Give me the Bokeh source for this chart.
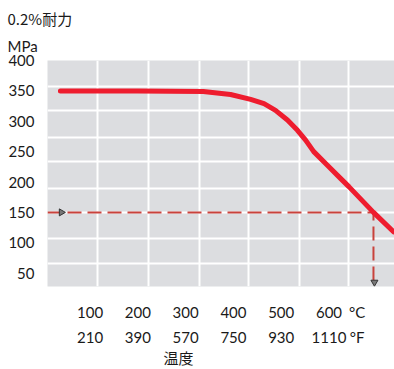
import math
from bokeh.plotting import figure
from bokeh.models import FixedTicker, Range1d, LinearAxis, Title
from bokeh.embed import file_html
from bokeh.resources import INLINE

# ---- data ----
temp_c = [38, 200, 337, 394, 436, 464, 488, 513, 534, 551, 568, 596, 624, 642, 693, 735]
strength = [350, 350, 349, 344, 336, 329, 318, 302, 285, 269, 250, 228, 206, 192, 150, 118]

strength_ticks = [50, 100, 150, 200, 250, 300, 350, 400]
c_ticks = [100, 200, 300, 400, 500, 600]
c_labels = ["100", "200", "300", "400", "500", "600"]
f_labels = ["210", "390", "570", "750", "930", "1110"]
unit_tick = 659          # where the °C / °F unit labels sit
axis_title_tick = 285    # where the axis title "温度" sits

grid_x = [116, 222, 329, 432, 539, 641]
grid_y = [66, 107, 149, 190, 233, 274, 318, 357]

guide_x = [11, 693, 693]
guide_y = [150, 150, 28]
arrow_right = ([40], [150])
arrow_down = ([695], [35])

X_RANGE = (11, 737)
Y_RANGE = (28, 400)

FONT = "Lato"
CJK = "Noto Sans CJK JP"
MIXED = "Lato, 'Noto Sans CJK JP'"
TXT = "#1a1a1a"
FS = "15px"

p = figure(width=394, height=369, x_range=Range1d(*X_RANGE), y_range=Range1d(*Y_RANGE),
           output_backend="svg", toolbar_location=None, title=None,
           min_border_left=47, min_border_right=0, min_border_top=60, min_border_bottom=82)
p.outline_line_color = None
p.background_fill_color = "#dcdde0"
p.border_fill_color = "white"

p.xaxis.visible = False
p.yaxis.ticker = FixedTicker(ticks=strength_ticks)
p.yaxis.axis_line_color = None
p.yaxis.major_tick_line_color = None
p.yaxis.major_tick_out = 0
p.yaxis.minor_tick_line_color = None
p.yaxis.major_label_standoff = 13
p.yaxis.major_label_text_font = FONT
p.yaxis.major_label_text_font_size = FS
p.yaxis.major_label_text_color = TXT

p.xgrid.ticker = FixedTicker(ticks=grid_x)
p.ygrid.ticker = FixedTicker(ticks=grid_y)
for g in (p.xgrid, p.ygrid):
    g.grid_line_color = "white"
    g.grid_line_width = 2
    g.grid_line_alpha = 1


def bottom_axis(ticks, labels, standoff, font):
    ax = LinearAxis(ticker=FixedTicker(ticks=ticks),
                    major_label_overrides={t: l for t, l in zip(ticks, labels)})
    ax.axis_line_color = None
    ax.major_tick_line_color = None
    ax.minor_tick_line_color = None
    ax.major_tick_out = 0
    ax.major_tick_in = 0
    ax.major_label_standoff = standoff
    ax.major_label_text_font = font
    ax.major_label_text_font_size = FS
    ax.major_label_text_color = TXT
    p.add_layout(ax, "below")


bottom_axis(c_ticks + [unit_tick], c_labels + ["°C"], 16, FONT)
bottom_axis(c_ticks + [unit_tick], f_labels + ["°F"], 4, FONT)
bottom_axis([axis_title_tick], ["温度"], 0, MIXED)

# y-axis title (two lines, above the frame)
p.add_layout(Title(text="MPa", align="left", offset=-40, standoff=12, text_font=FONT,
                   text_font_size=FS, text_font_style="normal", text_color=TXT), "above")
p.add_layout(Title(text="0.2%耐力", align="left", offset=-40, standoff=0, text_font=CJK,
                   text_font_size=FS, text_font_style="normal", text_color=TXT), "above")

# guide (dashed)
p.line(guide_x, guide_y, line_color="#c9423c", line_width=2, line_dash="14 6")
p.scatter(arrow_right[0], arrow_right[1], marker="triangle", angle=-math.pi / 2, size=7,
          line_color="#333333", fill_color="#777777")
p.scatter(arrow_down[0], arrow_down[1], marker="inverted_triangle", size=7,
          line_color="#333333", fill_color="#777777")

# main curve
p.line(temp_c, strength, line_color="#ee1c2e", line_width=5, line_join="round", line_cap="round")

open("out.html", "w").write(file_html(p, INLINE))
